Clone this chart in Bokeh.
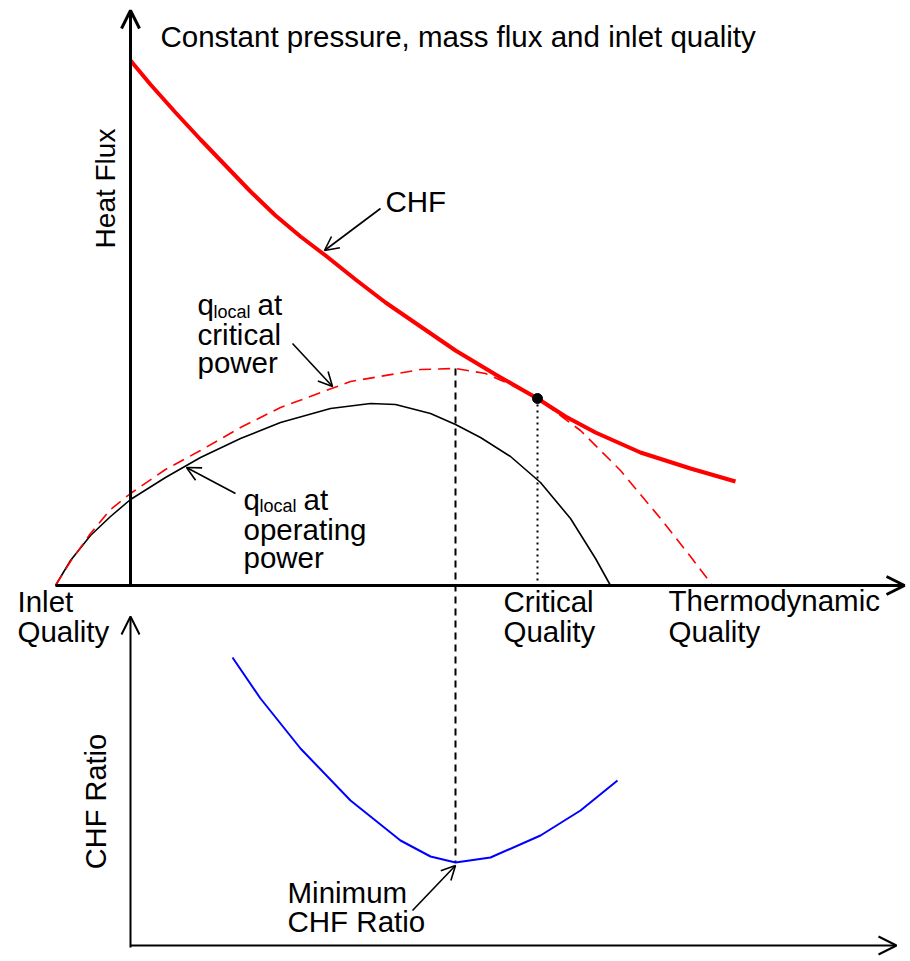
from bokeh.plotting import figure
from bokeh.models import Range1d, Arrow, OpenHead
from bokeh.core.properties import value
from bokeh.embed import file_html
from bokeh.resources import INLINE
import math

# ---- schematic data (diagram coordinates) ----
chf_x = [130, 150, 175, 200, 225, 250, 275, 300, 325, 355, 385, 420, 455, 495, 537, 565, 595, 640, 690, 735]
chf_y = [60, 84, 112, 139, 165, 191, 215, 236, 255, 279, 302, 326, 350, 374, 398, 416, 432, 452, 468, 481]

op_x = [55, 70, 90, 110, 130, 165, 200, 240, 280, 330, 370, 395, 430, 455, 480, 510, 540, 570, 595, 610]
op_y = [585, 560, 535, 516, 499, 477, 457, 438, 422, 408, 403, 404, 413, 424, 437, 456, 482, 518, 558, 585]

crit_x = [55, 70, 90, 110, 130, 165, 200, 240, 280, 350, 420, 455, 485, 510, 537, 580, 620, 660, 690, 712]
crit_y = [585, 561, 533, 509, 493, 469, 450, 427, 407, 381, 369, 368, 373, 384, 398, 430, 470, 518, 556, 585]

ratio_x = [232, 260, 300, 350, 400, 430, 455, 490, 540, 580, 617]
ratio_y = [657, 698, 748, 800, 840, 856, 862, 857, 835, 810, 780]

crit_pt_x = [537]
crit_pt_y = [398]

min_x = 455
min_top = 368
min_bot = 862

FONT = "Liberation Sans"
DY = -11  # baseline correction

p = figure(width=906, height=957, output_backend="svg", toolbar_location=None,
           x_range=Range1d(0, 906), y_range=Range1d(957, 0), min_border=0)
p.axis.visible = False
p.grid.visible = False
p.outline_line_color = None
p.background_fill_color = "white"

# axes (arrows)
p.add_layout(Arrow(end=OpenHead(size=18, line_width=3, line_color="black"),
                   x_start=130, y_start=585, x_end=130, y_end=10,
                   line_width=3, line_color="black"))
p.add_layout(Arrow(end=OpenHead(size=18, line_width=3, line_color="black"),
                   x_start=55, y_start=585, x_end=904, y_end=585,
                   line_width=3, line_color="black"))
p.add_layout(Arrow(end=OpenHead(size=18, line_width=2, line_color="black"),
                   x_start=130, y_start=947, x_end=130, y_end=616,
                   line_width=2, line_color="black"))
p.add_layout(Arrow(end=OpenHead(size=18, line_width=2, line_color="black"),
                   x_start=130, y_start=945, x_end=896, y_end=945,
                   line_width=2, line_color="black"))

# guide lines
p.line([min_x, min_x], [min_top, min_bot], line_color="black", line_width=2, line_dash="7 5")
p.line([crit_pt_x[0], crit_pt_x[0]], [crit_pt_y[0], 585], line_color="black", line_width=2, line_dash="2 4")

# curves
p.line(op_x, op_y, line_color="black", line_width=1.6)
p.line(crit_x, crit_y, line_color="#ff0000", line_width=1.6, line_dash="12 7")
p.line(chf_x, chf_y, line_color="#ff0000", line_width=4)
p.line(ratio_x, ratio_y, line_color="#0000ff", line_width=2)
p.scatter(crit_pt_x, crit_pt_y, size=10, color="black")

# annotation arrows
ann = [
    (380, 208, 324, 250),
    (292, 343, 332, 386),
    (235, 493, 186, 467),
    (412, 910, 455, 865),
]
for xs, ys, xe, ye in ann:
    p.add_layout(Arrow(end=OpenHead(size=14, line_width=1.6, line_color="black"),
                       x_start=xs, y_start=ys, x_end=xe, y_end=ye,
                       line_width=1.6, line_color="black"))

# texts
labels = [
    ("Constant pressure, mass flux and inlet quality", 160, 47),
    ("CHF", 385, 212),
    ("q", 197, 315), ("at", 257, 315), ("critical", 197, 345), ("power", 197, 373),
    ("q", 243, 510), ("at", 303, 510), ("operating", 243, 540), ("power", 243, 568),
    ("Inlet", 17, 612), ("Quality", 17, 642),
    ("Critical", 503, 612), ("Quality", 503, 642),
    ("Thermodynamic", 668, 611), ("Quality", 668, 642),
    ("Minimum", 287, 903), ("CHF Ratio", 287, 932),
]
p.text(x=[l[1] for l in labels], y=[l[2] + DY for l in labels], text=[l[0] for l in labels],
       text_font=value(FONT), text_font_size="29.5px", text_color="black",
       text_align="left", text_baseline="alphabetic")

subs = [("local", 213, 322), ("local", 259, 516)]
p.text(x=[s[1] for s in subs], y=[s[2] + DY for s in subs], text=[s[0] for s in subs],
       text_font=value(FONT), text_font_size="18px", text_color="black",
       text_align="left", text_baseline="alphabetic")

p.text(x=[105], y=[188], text=["Heat Flux"], angle=math.pi / 2,
       text_font=value(FONT), text_font_size="28px", text_color="black",
       text_align="center", text_baseline="middle")
p.text(x=[95], y=[801], text=["CHF Ratio"], angle=math.pi / 2,
       text_font=value(FONT), text_font_size="29px", text_color="black",
       text_align="center", text_baseline="middle")

open("out.html", "w").write(file_html(p, INLINE))
